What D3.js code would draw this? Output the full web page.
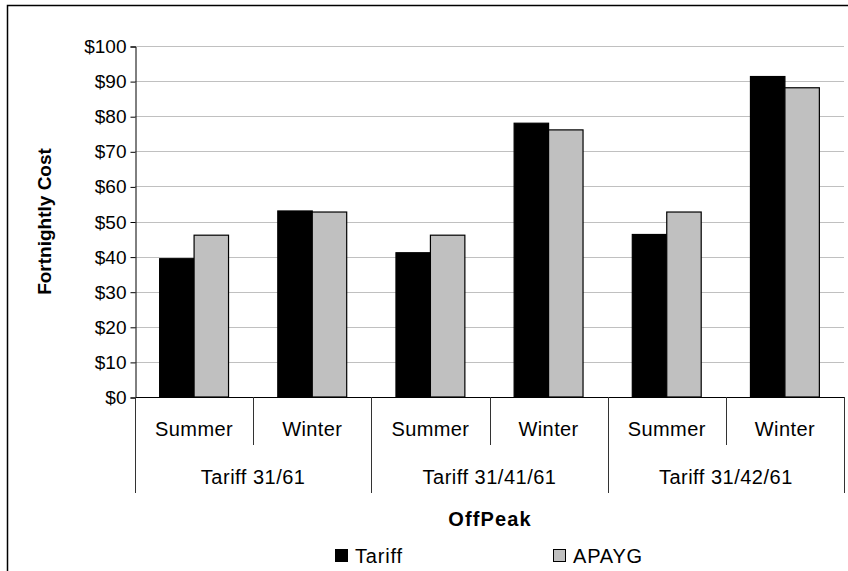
<!DOCTYPE html>
<html>
<head>
<meta charset="utf-8">
<script src="https://cdn.jsdelivr.net/npm/d3@7"></script>
<style>
  html, body { margin: 0; padding: 0; background: #fff; }
  svg text { font-family: "Liberation Sans", Arial, sans-serif; fill: #000; }
</style>
</head>
<body>
<svg id="chart" width="848" height="571"></svg>
<script>
const seasons = ["Summer", "Winter", "Summer", "Winter", "Summer", "Winter"];
const groups = ["Tariff 31/61", "Tariff 31/41/61", "Tariff 31/42/61"];
const seriesNames = ["Tariff", "APAYG"];
const tariffValues = [39.4, 53.0, 41.1, 78.0, 46.3, 91.3];
const apaygValues = [46.1, 52.7, 46.1, 76.1, 52.7, 88.1];
const yTicks = [0, 10, 20, 30, 40, 50, 60, 70, 80, 90, 100];
const seriesColors = ["#000000", "#c0c0c0"];

(function () {
const svg = d3.select("#chart");
const fontSize = 20;
const tickFont = 19;

// outer border
svg.append("rect").attr("x", 7.5).attr("y", 5.5).attr("width", 860).attr("height", 600)
  .attr("fill", "none").attr("stroke", "#000").attr("stroke-width", 1.5);

const pLeft = 135, pRight = 844, pTop = 46, pBottom = 397;
const catIdx = d3.range(seasons.length);

const x0 = d3.scaleBand().domain(catIdx).range([pLeft, pRight]).padding(0);
const x1 = d3.scaleBand().domain(seriesNames).range([0, x0.bandwidth()])
  .paddingInner(0).paddingOuter(0.715);
const y = d3.scaleLinear().domain([0, 100]).range([pBottom, pTop]);

// gridlines
svg.append("g").selectAll("line").data(yTicks.filter(d => d > 0)).join("line")
  .attr("x1", pLeft).attr("x2", pRight)
  .attr("y1", d => Math.round(y(d)) + 0.5).attr("y2", d => Math.round(y(d)) + 0.5)
  .attr("stroke", "#c0c0c0").attr("stroke-width", 1);

// y axis
const yAxis = d3.axisLeft(y).tickValues(yTicks).tickSize(5).tickPadding(4)
  .tickFormat(d => "$" + d);
const gy = svg.append("g").attr("transform", `translate(${pLeft + 0.5},0.5)`).call(yAxis);
gy.select(".domain").attr("stroke", "#000");
gy.selectAll(".tick line").attr("stroke", "#000");
gy.selectAll(".tick text").attr("font-size", tickFont).attr("font-family", "Liberation Sans, Arial, sans-serif").attr("fill", "#000");

// bars
const data = catIdx.map(i => ({ i, vals: [tariffValues[i], apaygValues[i]] }));
const bg = svg.append("g").selectAll("g").data(data).join("g")
  .attr("transform", d => `translate(${x0(d.i)},0)`);
bg.selectAll("rect").data(d => d.vals.map((v, k) => ({ v, k }))).join("rect")
  .attr("x", d => x1(seriesNames[d.k]))
  .attr("y", d => y(d.v))
  .attr("width", x1.bandwidth())
  .attr("height", d => y(0) - y(d.v))
  .attr("fill", d => seriesColors[d.k])
  .attr("stroke", "#000").attr("stroke-width", 1.2);

// category axis line
svg.append("line").attr("x1", pLeft).attr("x2", pRight).attr("y1", pBottom + 0.5).attr("y2", pBottom + 0.5)
  .attr("stroke", "#000").attr("stroke-width", 1);

// separators
const bounds = d3.range(seasons.length + 1);
svg.append("g").selectAll("line").data(bounds).join("line")
  .attr("x1", d => Math.round(pLeft + d * x0.step()) + 0.5)
  .attr("x2", d => Math.round(pLeft + d * x0.step()) + 0.5)
  .attr("y1", pBottom)
  .attr("y2", d => (d % 2 === 0) ? 493 : 445)
  .attr("stroke", "#333").attr("stroke-width", 1);

// season labels
svg.append("g").selectAll("text").data(catIdx).join("text")
  .attr("x", d => x0(d) + x0.bandwidth() / 2)
  .attr("y", 429)
  .attr("dy", "0.35em")
  .attr("text-anchor", "middle")
  .attr("font-size", fontSize)
  .attr("letter-spacing", 0.4)
  .text(d => seasons[d]);

// group labels
svg.append("g").selectAll("text").data(groups).join("text")
  .attr("x", (d, g) => x0(g * 2) + x0.bandwidth())
  .attr("y", 477)
  .attr("dy", "0.35em")
  .attr("text-anchor", "middle")
  .attr("font-size", fontSize)
  .attr("letter-spacing", 0.5)
  .text(d => d);

// axis titles
svg.append("text").attr("x", 490).attr("y", 519).attr("dy", "0.35em")
  .attr("text-anchor", "middle").attr("font-size", fontSize).attr("font-weight", "bold")
  .attr("letter-spacing", 1.1)
  .text("OffPeak");
svg.append("text").attr("transform", `translate(44,${(pTop + pBottom) / 2}) rotate(-90)`)
  .attr("dy", "0.35em").attr("text-anchor", "middle").attr("font-size", 19)
  .attr("font-weight", "bold").text("Fortnightly Cost");

// legend
const legendX = [335, 553];
const lg = svg.append("g").selectAll("g").data(seriesNames).join("g")
  .attr("transform", (d, k) => `translate(${legendX[k]},549)`);
lg.append("rect").attr("x", 0.5).attr("y", 0.5).attr("width", 12).attr("height", 12)
  .attr("fill", (d, k) => seriesColors[k]).attr("stroke", "#000").attr("stroke-width", 1);
lg.append("text").attr("x", 20).attr("y", 6.5).attr("dy", "0.35em")
  .attr("font-size", fontSize).attr("letter-spacing", 0.8).text(d => d);
})();
</script>
</body>
</html>
